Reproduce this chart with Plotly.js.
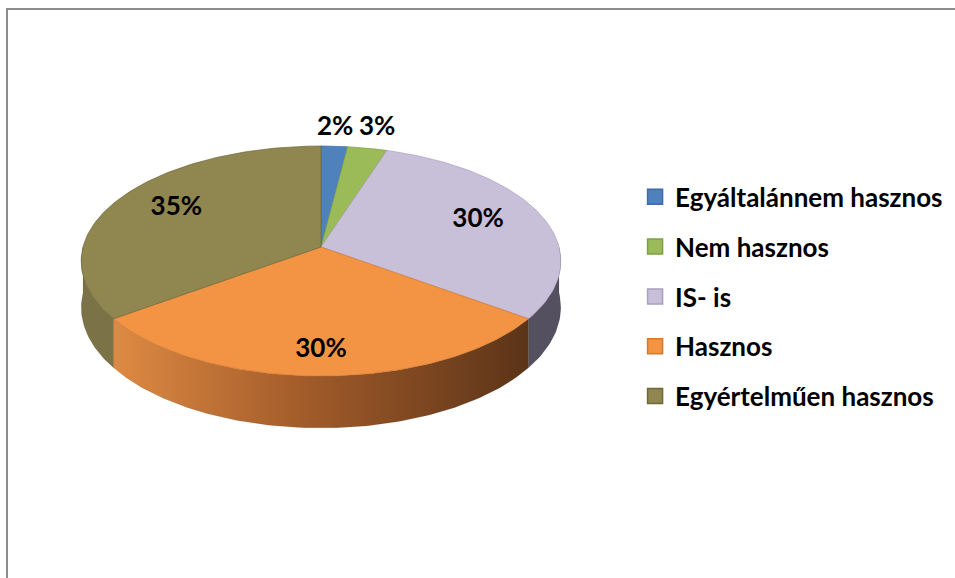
<!DOCTYPE html>
<html>
<head>
<meta charset="utf-8">
<script src="https://cdn.plot.ly/plotly-3.0.1.min.js"></script>
<style>html,body{margin:0;padding:0;background:#fff;}#chart{width:955px;height:578px;}</style>
</head>
<body>
<div id="chart"></div>
<script>
// ---- data ----
const categories = ["Egyáltalánnem hasznos", "Nem hasznos", "IS- is", "Hasznos", "Egyértelműen hasznos"];
const values = [2, 3, 30, 30, 35];
const percentLabels = ["2%", "3%", "30%", "30%", "35%"];

// ---- styles ----
const topColors = ["#4F81BD", "#9BBB59", "#C8BFD9", "#F29443", "#8F8650"];
const edgeColors = ["#3E6DA6", "#7F9E45", "#A99FBF", "#D27A33", "#6F6839"];
const sideColors = ["#2F4F78", "#5E7636", "#545060", null, "#7B7347"];
const orangeSideScale = [[0, "#DE8A43"], [0.45, "#A35C2A"], [1, "#5B3418"]];

// ---- geometry of the tilted pie (pixel space, simple perspective) ----
const cx = 321, cy = 247, R = 238, tilt = 113.3, persp = 0.122, depth = 45.6;
const deg = Math.PI / 180;
function pt(theta, dz, sx, sy) {
  const fx = sx === undefined ? 1 : sx;
  const fy = sy === undefined ? fx : sy;
  const s = Math.sin(theta * deg), c = Math.cos(theta * deg);
  const p = 1 / (1 + persp * c);
  return [cx + R * fx * s * p, cy - tilt * fy * c * p + dz * p];
}
function arc(a1, a2, dz) {
  const n = Math.max(2, Math.ceil(Math.abs(a2 - a1)));
  const out = [];
  for (let i = 0; i <= n; i++) out.push(pt(a1 + (a2 - a1) * i / n, dz));
  return out;
}

const total = values.reduce((a, b) => a + b, 0);
const starts = [], ends = [];
let acc = 0;
values.forEach(v => { starts.push(acc / total * 360); acc += v; ends.push(acc / total * 360); });

const traces = [];
// side walls (visible front half: 90..270 degrees)
values.forEach((v, i) => {
  const a1 = Math.max(starts[i], 90), a2 = Math.min(ends[i], 270);
  if (a2 <= a1) return;
  const top = arc(a1, a2, 0);
  const bot = arc(a2, a1, depth);
  const poly = top.concat(bot);
  poly.push(top[0]);
  const tr = {
    type: "scatter", mode: "lines", fill: "toself",
    x: poly.map(p => p[0]), y: poly.map(p => p[1]),
    line: { color: "rgba(0,0,0,0.15)", width: 0.6 },
    fillcolor: sideColors[i] || topColors[i],
    hoverinfo: "skip", showlegend: false
  };
  if (!sideColors[i]) {
    tr.fillgradient = { type: "horizontal", colorscale: orangeSideScale };
  }
  traces.push(tr);
});

// top faces
values.forEach((v, i) => {
  const poly = [[cx, cy]].concat(arc(starts[i], ends[i], 0));
  poly.push([cx, cy]);
  traces.push({
    type: "scatter", mode: "lines", fill: "toself",
    x: poly.map(p => p[0]), y: poly.map(p => p[1]),
    line: { color: edgeColors[i], width: 0.7 },
    fillcolor: topColors[i],
    name: categories[i], hoverinfo: "name", showlegend: false
  });
});

// percentage labels (small slices outside, others inside; outside labels pushed apart)
const lx = [], ly = [], isOut = [];
values.forEach((v, i) => {
  const mid = (starts[i] + ends[i]) / 2;
  const outside = v / total < 0.05;
  const p = outside ? pt(mid, 0, 1.18, 1.18) : pt(mid, 0, 0.72, 0.8);
  lx.push(p[0]); ly.push(p[1]); isOut.push(outside);
});
const minSep = 42;
for (let i = 0; i < values.length - 1; i++) {
  if (isOut[i] && isOut[i + 1] && lx[i + 1] - lx[i] < minSep) {
    const m = (lx[i] + lx[i + 1]) / 2;
    lx[i] = m - minSep / 2; lx[i + 1] = m + minSep / 2;
    const my = Math.min(ly[i], ly[i + 1]);
    ly[i] = my; ly[i + 1] = my;
  }
}
traces.push({
  type: "scatter", mode: "text", x: lx, y: ly, text: percentLabels,
  textfont: { family: "Lato, 'Liberation Sans', sans-serif", size: 26, color: "#000000", weight: "bold" },
  textposition: "middle center", hoverinfo: "skip", showlegend: false
});

// legend entries
categories.forEach((c, i) => {
  traces.push({
    type: "scatter", mode: "markers", x: [null], y: [null], name: c,
    legendgroup: "g" + i,
    marker: { symbol: "square", size: 15, color: topColors[i], line: { color: edgeColors[i], width: 1.5 } },
    showlegend: true, hoverinfo: "skip"
  });
});

const layout = {
  width: 955, height: 578,
  margin: { l: 0, r: 0, t: 0, b: 0 },
  paper_bgcolor: "#ffffff", plot_bgcolor: "#ffffff",
  xaxis: { range: [0, 955], visible: false, fixedrange: true },
  yaxis: { range: [578, 0], visible: false, fixedrange: true },
  showlegend: true,
  legend: {
    x: 0.665, y: 0.700, xanchor: "left", yanchor: "top",
    font: { family: "Lato, 'Liberation Sans', sans-serif", size: 26, color: "#000000", weight: "bold" },
    tracegroupgap: 13, bgcolor: "rgba(0,0,0,0)"
  },
  shapes: [{
    type: "rect", xref: "x", yref: "y", x0: 7, y0: 9, x1: 970, y1: 600,
    line: { color: "#8C8C8C", width: 2 }, fillcolor: "rgba(0,0,0,0)", layer: "below"
  }]
};

Plotly.newPlot("chart", traces, layout, { displayModeBar: false, staticPlot: true });
</script>
</body>
</html>
